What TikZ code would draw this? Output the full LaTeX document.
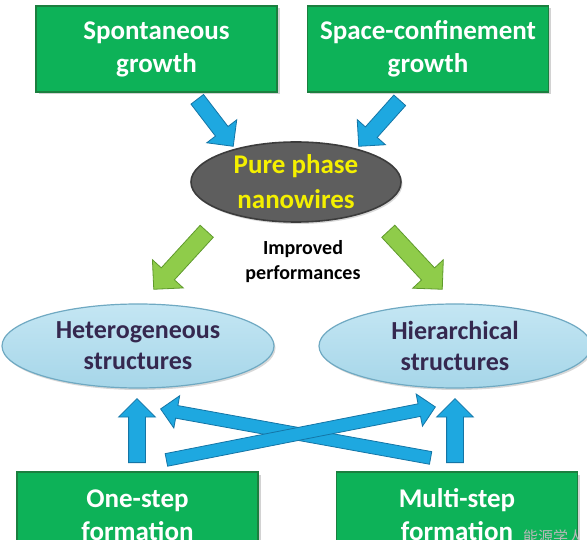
\documentclass[tikz,border=0pt]{standalone}
\usepackage{fontspec}
\setmainfont{Carlito}
\newfontfamily\cjk{Noto Sans CJK SC}
\usetikzlibrary{shapes.geometric,shapes.arrows,shadows,calc}
\definecolor{boxgreen}{HTML}{0DB258}
\definecolor{boxgreenD}{HTML}{1B7F3F}
\definecolor{ellgray}{HTML}{5E5E5E}
\definecolor{ellgrayD}{HTML}{3C3C3C}
\definecolor{ellblue}{HTML}{A6D6E9}
\definecolor{ellblueL}{HTML}{C4E6F3}
\definecolor{ellblueD}{HTML}{6FA9C2}
\definecolor{txtpurple}{HTML}{35284F}
\definecolor{txtyellow}{HTML}{F4F000}
\definecolor{arrblue}{HTML}{1EA8E0}
\definecolor{arrblueD}{HTML}{1475A6}
\definecolor{arrgreen}{HTML}{8FCC4A}
\definecolor{arrgreenD}{HTML}{5F9A2C}
\newcommand\fatarrow[4]{%
  \path let \p1=(#1), \p2=(#2),
    \n1={atan2(\y2-\y1,\x2-\x1)}, \n2={veclen(\x2-\x1,\y2-\y1)} in
    node[#3, rotate=\n1, minimum height=\n2, anchor=tail] (#4) at (\p1) {};}
\begin{document}
\begin{tikzpicture}[x=1pt,y=-1pt,
  greenbox/.style={rectangle, fill=boxgreen, draw=boxgreenD, line width=1.2pt,
    minimum width=241pt, minimum height=86pt, inner sep=0pt, text=white, align=center,
    font=\bfseries\fontsize{27}{33}\selectfont,
    drop shadow={shadow xshift=2.5pt, shadow yshift=-2.5pt, opacity=0.35}},
  grayell/.style={ellipse, fill=ellgray, draw=ellgrayD, line width=1.6pt,
    minimum width=210pt, minimum height=80pt, inner xsep=0pt, inner ysep=-18pt,
    text=txtyellow, align=center, font=\bfseries\fontsize{27}{35}\selectfont,
    drop shadow={shadow xshift=1.5pt, shadow yshift=-2pt, opacity=0.3}},
  blueell/.style={ellipse, top color=ellblueL, bottom color=ellblue, draw=ellblueD, line width=1.2pt,
    minimum width=272pt, minimum height=84pt, inner xsep=0pt, inner ysep=-14pt,
    text=txtpurple, align=center, font=\bfseries\fontsize{26}{31}\selectfont,
    drop shadow={shadow xshift=1.5pt, shadow yshift=-2pt, opacity=0.3}},
  perf/.style={align=center, text=black, font=\bfseries\fontsize{20}{25}\selectfont},
  blockbase/.style={single arrow, inner xsep=0pt, minimum width=1pt, single arrow tip angle=90, line width=0.8pt},
  bluearr/.style={blockbase, fill=arrblue, draw=arrblueD, inner ysep=7.5pt, single arrow head extend=11pt},
  bluethin/.style={blockbase, fill=arrblue, draw=arrblueD, inner ysep=6pt, single arrow head extend=10pt},
  blueup/.style={blockbase, fill=arrblue, draw=arrblueD, inner ysep=8pt, single arrow head extend=10pt},
  greenarr/.style={blockbase, fill=arrgreen, draw=arrgreenD, inner ysep=8.5pt, single arrow head extend=12pt},
]
\useasboundingbox (0,0) rectangle (587,540);
\fill[white] (0,0) rectangle (587,540);

% nodes
\node[greenbox] (sg)  at (156.5,49) {Spontaneous\\growth};
\node[greenbox] (scg) at (428,49) {Space-confinement\\growth};
\node[grayell]  (pp)  at (296,182) {Pure phase\\nanowires};
\node[perf]     (ip)  at (303,262) {Improved\\performances};
\node[blueell]  (het) at (138,346) {Heterogeneous\\structures};
\node[blueell]  (hier) at (455,346) {Hierarchical\\structures};
\node[greenbox] (os)  at (137.5,515) {One-step\\formation};
\node[greenbox] (ms)  at (457,515) {Multi-step\\formation};

% arrow end points
\coordinate (a1s) at (197,99);  \coordinate (a1e) at (233,146);
\coordinate (a2s) at (400,100); \coordinate (a2e) at (359,146);
\coordinate (g1s) at (207,231); \coordinate (g1e) at (154,289);
\coordinate (g2s) at (388,231); \coordinate (g2e) at (442,289);
\coordinate (u1s) at (137,463); \coordinate (u1e) at (137,399);
\coordinate (u2s) at (455,463); \coordinate (u2e) at (455,399);
\coordinate (xbs) at (431,458); \coordinate (xbe) at (161,409);
\coordinate (xas) at (166,460); \coordinate (xae) at (435,407);

\fatarrow{a1s}{a1e}{bluearr}{arr1}
\fatarrow{a2s}{a2e}{bluearr}{arr2}
\fatarrow{g1s}{g1e}{greenarr}{arr3}
\fatarrow{g2s}{g2e}{greenarr}{arr4}
\fatarrow{u1s}{u1e}{blueup}{arr5}
\fatarrow{u2s}{u2e}{blueup}{arr6}
\fatarrow{xbs}{xbe}{bluethin}{arr7}
\fatarrow{xas}{xae}{bluethin}{arr8}

% watermark
\node[anchor=base west, inner sep=0pt, text=gray!55, font=\cjk\fontsize{15}{15}\selectfont] (wm) at (523,542) {能源学人};
\end{tikzpicture}
\end{document}
